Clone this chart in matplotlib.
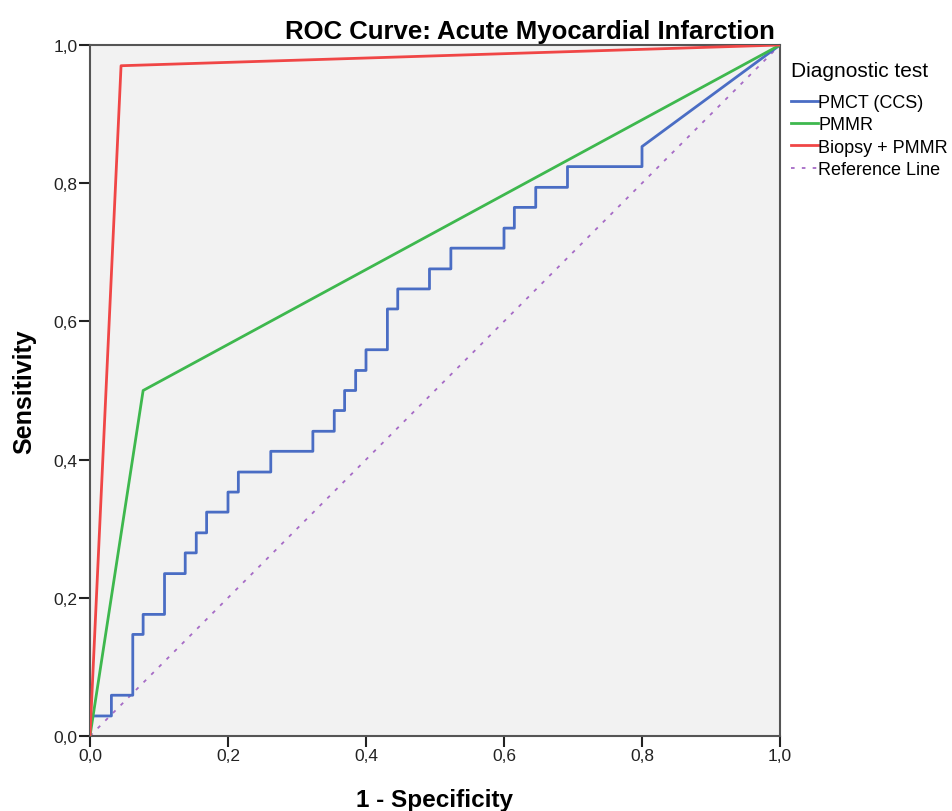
import numpy as np
import matplotlib
matplotlib.use("Agg")
import matplotlib.pyplot as plt
from matplotlib.ticker import FuncFormatter

plt.rcParams['font.family'] = ['Liberation Sans', 'DejaVu Sans']

# PMCT (CCS) step curve: points where the curve steps up (steps-post)
pmct_fpr = [0.0, 0.0, 0.031, 0.062, 0.077, 0.108, 0.138, 0.154, 0.169, 0.200,
            0.215, 0.262, 0.323, 0.354, 0.369, 0.385, 0.400, 0.431, 0.446,
            0.492, 0.523, 0.600, 0.615, 0.646, 0.692, 0.800]
pmct_tpr = [0.0, 0.029, 0.059, 0.147, 0.176, 0.235, 0.265, 0.294, 0.324, 0.353,
            0.382, 0.412, 0.441, 0.471, 0.500, 0.529, 0.559, 0.618, 0.647,
            0.676, 0.706, 0.735, 0.765, 0.794, 0.824, 0.853]

pmmr_fpr = [0.0, 0.077, 1.0]
pmmr_tpr = [0.0, 0.500, 1.0]

biopsy_fpr = [0.0, 0.045, 1.0]
biopsy_tpr = [0.0, 0.970, 1.0]

ticks = [0.0, 0.2, 0.4, 0.6, 0.8, 1.0]

fig = plt.figure(figsize=(9.52, 8.12), dpi=100)
ax = fig.add_axes([90/952, 75/812, 690/952, 691/812])
ax.set_facecolor('#f2f2f2')

# build step path, then the final tied diagonal to (1,1)
xs = np.repeat(pmct_fpr, 2)[1:]
ys = np.repeat(pmct_tpr, 2)[:-1]
xs = np.append(xs, 1.0)
ys = np.append(ys, 1.0)

ax.plot([0, 1], [0, 1], linestyle=(0, (2, 4)), color='#a66bc6', lw=1.3,
        label='Reference Line', zorder=2)
ax.plot(xs, ys, color='#4a6dc4', lw=2, label='PMCT (CCS)', zorder=3)
ax.plot(pmmr_fpr, pmmr_tpr, color='#3eb84e', lw=2, label='PMMR', zorder=3)
ax.plot(biopsy_fpr, biopsy_tpr, color='#f04646', lw=2, label='Biopsy + PMMR', zorder=3)

ax.set_xlim(0, 1)
ax.set_ylim(0, 1)
ax.set_xticks(ticks)
ax.set_yticks(ticks)
fmt = FuncFormatter(lambda v, p: ('%.1f' % v).replace('.', ','))
ax.xaxis.set_major_formatter(fmt)
ax.yaxis.set_major_formatter(fmt)
ax.tick_params(direction='out', length=8, width=1.5, labelsize=12.5, colors='#222222')
ax.tick_params(axis='x', pad=1)
ax.tick_params(axis='y', pad=1)

for s in ax.spines.values():
    s.set_color('#555555')
    s.set_linewidth(1.5)

ax.set_title('ROC Curve: Acute Myocardial Infarction', fontsize=18.5, fontweight='bold',
             x=0.993, ha='right', pad=5)
ax.set_xlabel('1 - Specificity', fontsize=17.5, fontweight='bold', labelpad=18)
ax.set_ylabel('Sensitivity', fontsize=18, fontweight='bold', labelpad=12)

h, l = ax.get_legend_handles_labels()
order = [1, 2, 3, 0]
leg = ax.legend([h[i] for i in order], [l[i] for i in order], title='Diagnostic test',
                loc='upper left', bbox_to_anchor=(0.998, 0.995), frameon=False,
                fontsize=13, title_fontsize=15, handlelength=1.5, handletextpad=0.0,
                labelspacing=0.3, borderaxespad=0.3)
leg._legend_box.align = 'left'
leg._legend_box.sep = 10

fig.savefig('out.png', dpi=100)
